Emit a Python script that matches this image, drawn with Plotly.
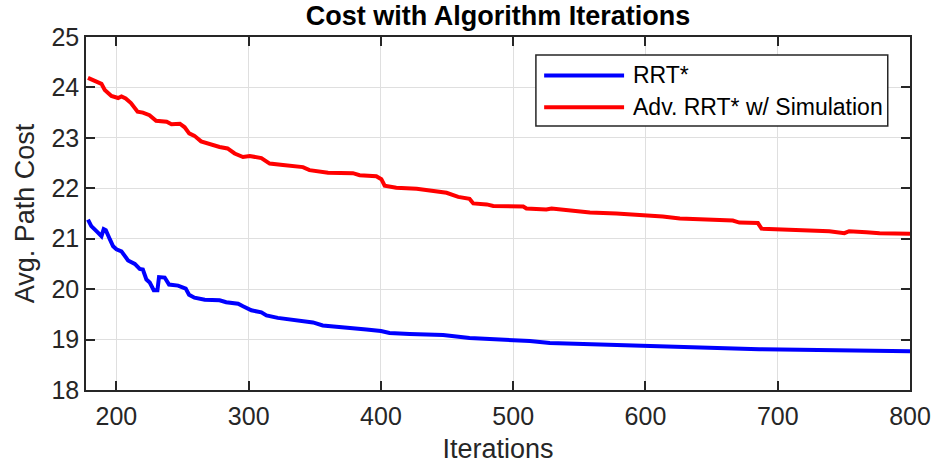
import plotly.graph_objects as go

# ---- data ----
series_names = ["RRT*", "Adv. RRT* w/ Simulation"]
series_colors = ["#0000ff", "#ff0000"]

rrt_x = [178.5, 181, 184.9, 188.7, 190.4, 192, 195, 197.5, 200, 203.8, 206.3, 208.8,
         213.9, 217.6, 220, 222.7, 225.2, 228.2, 231, 232.2, 236.5, 239.8, 246.6,
         252.4, 254.9, 259, 266.8, 278, 283, 292, 295.7, 302, 309.6, 313.4, 322,
         336, 348.6, 356, 371, 389, 400, 406.5, 421.7, 447, 467, 497.5, 512.6,
         527.7, 565.5, 595.7, 626, 666, 686, 716.6, 767, 800]
rrt_y = [21.38, 21.25, 21.15, 21.05, 21.19, 21.17, 20.99, 20.85, 20.79, 20.75, 20.66,
         20.57, 20.50, 20.40, 20.39, 20.19, 20.13, 19.98, 19.98, 20.24, 20.23, 20.09,
         20.07, 20.01, 19.89, 19.83, 19.79, 19.78, 19.74, 19.71, 19.66, 19.58, 19.54,
         19.48, 19.43, 19.38, 19.34, 19.28, 19.25, 19.20, 19.17, 19.13, 19.11, 19.09,
         19.03, 19.00, 18.97, 18.93, 18.90, 18.87, 18.85, 18.83, 18.81, 18.80, 18.79,
         18.77]

adv_x = [178.5, 183.6, 188.7, 191.2, 196.2, 201.3, 203.8, 207, 211, 216, 220, 225,
         230, 238, 241.6, 248, 251.6, 255, 259, 264, 270.5, 278, 284, 289.4, 295.7,
         300.8, 309.6, 315.9, 325.9, 341, 346, 353.6, 360, 378.8, 383.9, 396.5, 400.3,
         402.8, 411.6, 427, 439.5, 449.6, 458.4, 467, 469.8, 480, 484.9, 507.6, 510,
         525, 529, 550.4, 558, 578, 600.8, 613, 626, 666, 671, 685, 687.7, 716.6, 739,
         750.4, 754, 767, 777, 800]
adv_y = [24.19, 24.13, 24.07, 23.95, 23.83, 23.79, 23.82, 23.78, 23.69, 23.52, 23.50,
         23.45, 23.34, 23.32, 23.27, 23.28, 23.21, 23.09, 23.04, 22.93, 22.87, 22.82,
         22.79, 22.69, 22.62, 22.64, 22.60, 22.49, 22.46, 22.42, 22.36, 22.34, 22.31,
         22.30, 22.26, 22.24, 22.18, 22.05, 22.01, 21.99, 21.95, 21.91, 21.83, 21.79,
         21.70, 21.68, 21.65, 21.64, 21.60, 21.58, 21.60, 21.55, 21.52, 21.50, 21.47,
         21.44, 21.40, 21.36, 21.32, 21.31, 21.20, 21.18, 21.15, 21.11, 21.15, 21.13,
         21.11, 21.10]

x_ticks = [200, 300, 400, 500, 600, 700, 800]
y_ticks = [18, 19, 20, 21, 22, 23, 24, 25]

title_text = "Cost with Algorithm Iterations"
x_title = "Iterations"
y_title = "Avg. Path Cost"

FONT = "Liberation Sans, Arial, Helvetica, sans-serif"
AX = "#262626"

fig = go.Figure()
for xs, ys, name, col in [(rrt_x, rrt_y, series_names[0], series_colors[0]),
                          (adv_x, adv_y, series_names[1], series_colors[1])]:
    fig.add_trace(go.Scatter(x=xs, y=ys, mode="lines", name=name,
                             line=dict(color=col, width=4), showlegend=False))

axis_common = dict(showline=True, linecolor=AX, linewidth=1.5, mirror="ticks",
                   ticks="inside", ticklen=9, tickwidth=1.5, tickcolor=AX,
                   showgrid=True, gridcolor="#dfdfdf", gridwidth=1, zeroline=False,
                   automargin=False,
                   tickfont=dict(family=FONT, size=25, color=AX))

fig.update_xaxes(range=[177, 800], tickvals=x_ticks, **axis_common,
                 ticklabelstandoff=3,
                 title=dict(text=x_title, font=dict(family=FONT, size=27, color=AX),
                            standoff=10))
fig.update_yaxes(range=[18, 25], tickvals=y_ticks, **axis_common,
                 title=dict(text=y_title, font=dict(family=FONT, size=27, color=AX),
                            standoff=9))

# manual legend (MATLAB style, long line samples)
lx0, lx1, ly0, ly1 = 0.546, 0.973, 0.949, 0.748
fig.add_shape(type="rect", xref="paper", yref="paper", x0=lx0, x1=lx1, y0=ly1, y1=ly0,
              line=dict(color=AX, width=1.5), fillcolor="white", layer="above")
rows = [0.891, 0.801]
for ry, name, col in zip(rows, series_names, series_colors):
    fig.add_shape(type="line", xref="paper", yref="paper", x0=0.556, x1=0.653,
                  y0=ry, y1=ry, line=dict(color=col, width=4), layer="above")
    fig.add_annotation(xref="paper", yref="paper", x=0.661, y=ry, text=name,
                       showarrow=False, xanchor="left", yanchor="middle",
                       font=dict(family=FONT, size=23, color="black"))

fig.update_layout(
    width=932, height=465,
    margin=dict(l=86, r=22, t=37, b=75),
    plot_bgcolor="white", paper_bgcolor="white",
    title=dict(text="<b>" + title_text + "</b>", x=0.5, xref="paper",
               y=0.967, yanchor="middle",
               font=dict(family=FONT, size=27, color="black")),
)

fig.write_html("out.html")
